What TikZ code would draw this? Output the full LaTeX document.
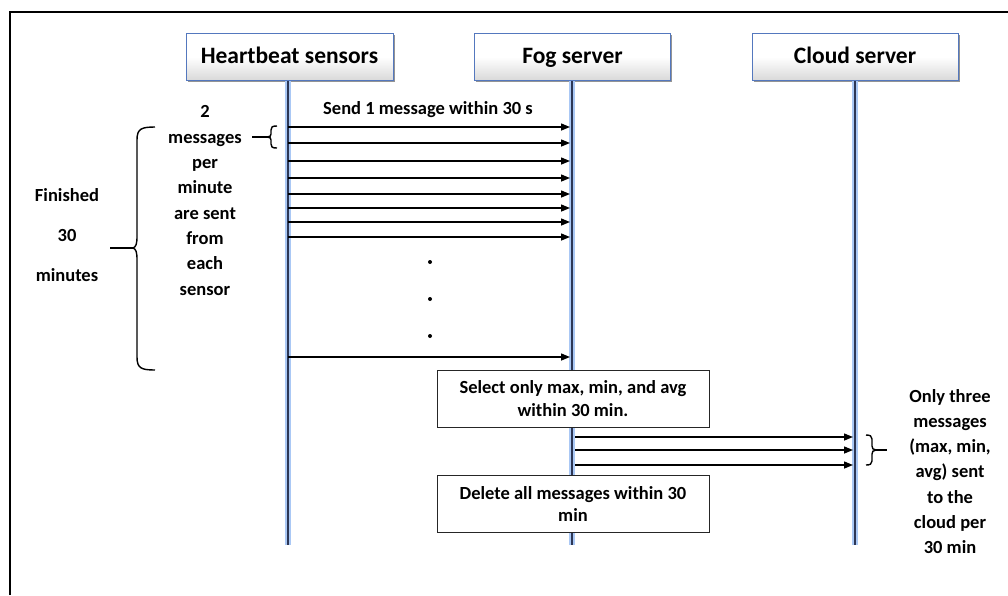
\documentclass[tikz,border=0pt]{standalone}
\usepackage{fontspec}
\setmainfont{Carlito}
\usetikzlibrary{arrows.meta,shadows}
\definecolor{boxblue}{RGB}{84,120,190}
\definecolor{glow}{RGB}{170,200,245}
\definecolor{lifedark}{RGB}{45,55,85}
\begin{document}
\begin{tikzpicture}[x=1pt,y=-1pt,
  head/.style={draw=boxblue, line width=1pt, top color=white, bottom color=gray!30, middle color=white,
    minimum height=47pt, inner sep=0pt, text height=16pt, text depth=4pt,
    font=\fontsize{23.5}{26}\selectfont\bfseries,
    drop shadow={shadow xshift=1.5pt,shadow yshift=-1.5pt,fill=black!60,opacity=0.7}},
  note/.style={draw=black!85, line width=0.9pt, fill=white, minimum width=272pt, minimum height=57pt,
    inner sep=0pt, align=center, font=\fontsize{18.5}{22.5}\selectfont\bfseries},
  glowline/.style={glow, line width=6pt},
  lifeline/.style={lifedark, line width=1.2pt},
  msg/.style={black, line width=1.4pt, -{Triangle[length=9pt,width=7pt]}},
  lbl/.style={font=\fontsize{18.5}{25.3}\selectfont\bfseries, align=center, inner sep=0pt},
  bracepen/.style={black, line width=1.4pt},
  dotmark/.style={fill=black, circle, inner sep=0pt, minimum size=4pt}]
\useasboundingbox (0,0) rectangle (1008,595);
% frame
\draw[black, line width=1.6pt] (10,595) -- (10,12) -- (1008,12);

% headers
\node[head, minimum width=207pt] (hb) at (289.5,57) {Heartbeat sensors};
\node[head, minimum width=196pt] (fog) at (572.5,57) {Fog server};
\node[head, minimum width=206pt] (cloud) at (855,57) {Cloud server};

% lifeline ends
\coordinate (hbend) at (288,545);
\coordinate (fogend) at (572,545);
\coordinate (cloudend) at (855,545);

\foreach \n/\e in {hb/hbend, fog/fogend, cloud/cloudend}{
  \draw[glowline] (\n.south -| \e) -- (\e);
  \draw[lifeline] (\n.south -| \e) -- (\e);
}

% messages sensors -> fog
\foreach \y in {127,143,161,178,194,208,222,237,357}{
  \draw[msg] (hbend |- 0,\y) -- ([xshift=-2pt]fogend |- 0,\y);
}
\node[lbl] (send) at (428,110) {Send 1 message within 30 s};

% dots
\node[dotmark] (d1) at (430,262) {};
\node[dotmark] (d2) at (430,299) {};
\node[dotmark] (d3) at (430,336) {};

% left texts
\node[lbl] (rate) at (205,200.5) {2\\messages\\per\\minute\\are sent\\from\\each\\sensor};
\node[lbl, font=\fontsize{18.5}{40}\selectfont\bfseries] (fin) at (67,235) {Finished\\30\\minutes};

% small brace near heartbeat
\draw[bracepen] (277,126) .. controls (272,126) and (271,127) .. (271,130) -- (271,134)
  .. controls (271,136) and (270,137) .. (267,137)
  .. controls (270,137) and (271,138) .. (271,140) -- (271,144)
  .. controls (271,147) and (272,148) .. (277,148);
\draw[bracepen] (252,137) -- (267,137);

% big brace
\draw[bracepen] (155,127) .. controls (141,127) and (137,129) .. (137,140) -- (137,236)
  .. controls (137,244) and (136,247) .. (133,248)
  .. controls (136,249) and (137,252) .. (137,260) -- (137,357)
  .. controls (137,368) and (141,370) .. (155,370);
\draw[bracepen] (110,248) -- (133,248);

% fog boxes
\node[note] (sel) at (573,398.5) {Select only max, min, and avg\\within 30 min.};
\node[note] (del) at (573,504) {Delete all messages within 30\\min};

% fog -> cloud
\foreach \y in {437,450,465}{
  \draw[msg] ([xshift=3pt]fogend |- 0,\y) -- ([xshift=-2pt]cloudend |- 0,\y);
}

% right brace
\draw[bracepen] (866,435) .. controls (870,435) and (872,436) .. (872,439) -- (872,446)
  .. controls (872,448) and (873,450) .. (876,450)
  .. controls (873,450) and (872,452) .. (872,454) -- (872,461)
  .. controls (872,464) and (870,465) .. (866,465);
\draw[bracepen] (876,450) -- (887,450);

\node[lbl] (only) at (950,471.5) {Only three\\messages\\(max, min,\\avg) sent\\to the\\cloud per\\30 min};
\end{tikzpicture}
\end{document}
